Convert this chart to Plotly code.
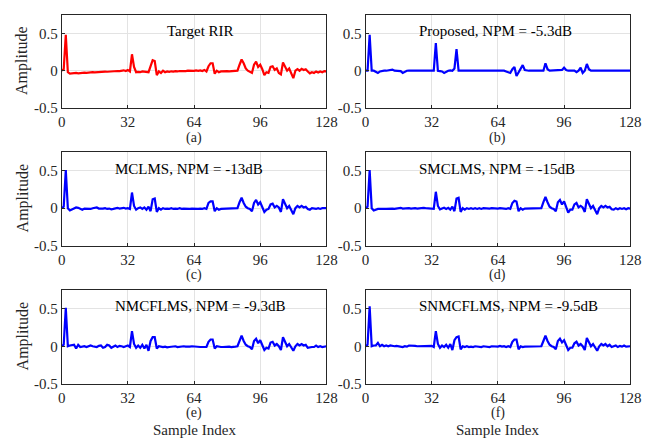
import plotly.graph_objects as go

W, H = 653, 445

target = [
    0.00, 0.02, 0.48, -0.02, -0.04, -0.035, -0.04, -0.03, -0.035, -0.03,
    -0.035, -0.025, -0.03, -0.025, -0.028, -0.02, -0.022, -0.018, -0.02, -0.015,
    -0.016, -0.012, -0.014, -0.01, -0.01, -0.008, -0.006, -0.004, -0.005, 0.0,
    0.005, -0.005, 0.01, -0.01, 0.22, 0.05, -0.02, -0.015, -0.02, -0.01,
    -0.015, -0.01, -0.02, 0.06, 0.14, 0.13, -0.06, -0.01, -0.03, 0.0,
    -0.02, -0.01, -0.015, -0.008, -0.012, -0.005, -0.01, -0.004, -0.008, -0.003,
    -0.006, 0.0, -0.004, 0.002, -0.003, 0.003, -0.002, 0.005, -0.004, 0.01,
    -0.01, 0.06, 0.10, 0.10, -0.04, 0.0, -0.02, -0.01, -0.006, -0.01,
    -0.005, -0.008, -0.004, -0.006, -0.003, 0.0, 0.08, 0.15, 0.10, 0.03,
    0.0, -0.01, -0.03, 0.08, 0.12, 0.05, 0.08, 0.02, -0.06, -0.02,
    -0.03, 0.05, 0.06, 0.01, 0.03, -0.03, -0.05, 0.11, 0.05, 0.0,
    0.03, -0.05, -0.10, 0.0, 0.02, 0.0, 0.025, 0.01, 0.02, -0.01,
    -0.035, -0.02, -0.03, -0.01, -0.025, -0.01, -0.02, -0.005, -0.01,
]

proposed = [
    0.0, 0.0, 0.48, 0.0, 0.0, -0.01, -0.03, -0.01, 0.0, 0.0,
    0.0, 0.002, 0.005, 0.015, 0.0, 0.0, 0.0, -0.005, -0.03, -0.01,
    0.0, 0.002, 0.0, 0.003, 0.0, 0.0, 0.002, 0.0, 0.0, 0.0,
    0.0, 0.0, 0.0, 0.0, 0.37, 0.0, -0.005, -0.01, -0.03, -0.01,
    0.0, 0.005, 0.0, 0.03, 0.29, 0.0, 0.0, 0.0, 0.002, 0.0,
    0.0, 0.0, 0.0, 0.002, 0.0, 0.0, 0.0, 0.0, 0.0, 0.0,
    0.0, 0.0, 0.0, 0.0, 0.005, 0.01, 0.0, 0.0, -0.01, -0.02,
    -0.03, 0.02, 0.05, -0.07, -0.02, 0.02, 0.075, 0.01, 0.0, 0.0,
    0.0, 0.0, 0.0, 0.0, 0.0, 0.0, 0.0, 0.10, 0.02, 0.0,
    0.0, 0.0, 0.0, 0.0, 0.005, 0.01, 0.04, 0.01, 0.0, 0.0,
    0.0, 0.0, -0.02, 0.0, 0.04, -0.03, 0.0, 0.09, 0.02, 0.0,
    0.0, 0.0, 0.0, 0.0, 0.0, 0.0, 0.0, 0.0, 0.0, -0.005,
    0.0, 0.0, 0.0, 0.0, 0.0, 0.0, 0.0, 0.0, 0.0,
]

mclms = [
    0.0, 0.02, 0.51, 0.0, -0.03, -0.02, 0.0, 0.01, 0.005, -0.01,
    -0.02, -0.005, -0.01, -0.005, -0.01, 0.0, 0.005, 0.01, -0.005, -0.01,
    -0.005, 0.0, -0.01, -0.005, -0.015, -0.01, 0.0, 0.005, -0.005, 0.0,
    0.005, -0.005, 0.0, -0.01, 0.21, 0.03, -0.02, 0.0, 0.01, -0.01,
    0.01, -0.02, 0.02, -0.04, 0.12, 0.13, -0.05, 0.0, -0.02, 0.0,
    -0.01, -0.005, -0.01, 0.0, -0.01, -0.005, -0.01, 0.0, -0.008, -0.005,
    -0.01, -0.005, -0.01, -0.005, -0.01, -0.005, -0.01, -0.005, -0.01, 0.0,
    -0.01, 0.07, 0.09, 0.09, -0.04, 0.0, -0.02, -0.01, -0.01, -0.01,
    -0.01, -0.01, -0.01, -0.01, -0.01, 0.0, 0.08, 0.14, 0.07, 0.02,
    0.0, -0.01, -0.04, 0.07, 0.11, 0.05, 0.08, 0.01, -0.05, -0.02,
    -0.01, 0.05, 0.06, 0.01, 0.03, 0.01, -0.05, 0.12, 0.05, 0.0,
    0.03, -0.03, -0.08, 0.0, 0.03, 0.01, 0.03, 0.01, 0.02, -0.01,
    -0.02, 0.0, -0.01, -0.01, 0.0, -0.01, 0.0, -0.005, 0.0,
]

smclms = [
    0.0, 0.02, 0.51, 0.0, -0.03, -0.015, -0.01, -0.01, -0.005, -0.01,
    -0.01, -0.005, 0.0, -0.005, -0.01, -0.005, 0.0, 0.005, -0.005, 0.0,
    -0.005, 0.0, -0.005, 0.0, 0.0, -0.005, 0.0, 0.0, 0.005, 0.0,
    0.0, 0.0, 0.0, -0.01, 0.22, 0.03, -0.015, 0.0, 0.005, -0.01,
    0.005, -0.02, 0.02, -0.04, 0.13, 0.14, -0.05, 0.0, -0.02, 0.0,
    -0.01, 0.0, -0.01, 0.0, -0.01, 0.0, -0.01, 0.0, -0.005, 0.0,
    -0.005, 0.0, -0.005, 0.0, -0.005, 0.0, -0.005, 0.0, -0.01, 0.0,
    -0.01, 0.07, 0.10, 0.09, -0.04, 0.0, -0.02, -0.005, -0.005, -0.005,
    -0.005, -0.005, -0.005, 0.0, 0.0, 0.0, 0.08, 0.15, 0.08, 0.02,
    0.0, -0.01, -0.04, 0.08, 0.11, 0.05, 0.09, 0.01, -0.06, -0.02,
    -0.02, 0.05, 0.07, 0.01, 0.03, 0.01, -0.05, 0.12, 0.05, 0.0,
    0.03, -0.03, -0.08, 0.0, 0.03, 0.01, 0.03, 0.01, 0.02, -0.015,
    -0.02, 0.0, -0.015, 0.0, -0.01, 0.0, -0.015, 0.0, -0.005,
]

nmcflms = [
    0.0, 0.02, 0.51, 0.0, 0.01, 0.01, 0.02, -0.03, 0.02, -0.01,
    0.0, 0.0, -0.01, 0.005, 0.01, 0.0, -0.005, -0.01, 0.005, 0.01,
    -0.02, -0.01, 0.02, 0.01, -0.02, 0.0, 0.01, -0.01, 0.005, 0.0,
    -0.01, 0.0, 0.01, -0.01, 0.20, 0.03, -0.02, 0.01, -0.02, 0.02,
    -0.03, 0.02, -0.06, 0.07, 0.12, 0.12, -0.03, 0.0, -0.01, -0.01,
    -0.005, -0.015, -0.01, -0.005, -0.01, 0.0, -0.01, -0.005, -0.01, 0.0,
    -0.005, -0.01, -0.005, 0.0, -0.005, -0.01, -0.005, -0.01, -0.01, -0.01,
    -0.01, 0.06, 0.09, 0.09, -0.03, 0.0, -0.01, -0.01, -0.01, -0.005,
    -0.01, -0.005, -0.01, -0.01, -0.005, 0.0, 0.08, 0.14, 0.07, 0.02,
    0.0, -0.01, -0.04, 0.07, 0.10, 0.04, 0.08, 0.01, -0.05, -0.02,
    -0.03, 0.05, 0.06, 0.01, 0.03, 0.0, -0.05, 0.12, 0.06, 0.0,
    0.03, -0.02, -0.06, 0.0, 0.03, 0.01, 0.03, 0.01, 0.02, -0.02,
    -0.01, -0.01, -0.01, 0.01, -0.01, 0.0, -0.01, 0.0, 0.0,
]

snmcflms = [
    0.0, 0.02, 0.53, 0.0, 0.01, 0.01, 0.045, 0.0, 0.02, 0.0,
    0.01, 0.0, 0.01, 0.0, 0.0, 0.005, 0.0, 0.0, -0.01, 0.0,
    -0.005, 0.01, 0.005, 0.0, 0.005, 0.0, 0.0, -0.005, 0.005, 0.0,
    -0.005, 0.0, 0.005, -0.01, 0.20, 0.03, -0.02, 0.01, -0.01, 0.02,
    -0.02, 0.03, -0.05, 0.08, 0.12, 0.13, -0.04, 0.0, -0.01, 0.0,
    -0.01, -0.005, -0.01, 0.0, -0.005, 0.0, -0.01, 0.0, -0.005, 0.0,
    -0.01, 0.0, -0.005, 0.0, -0.005, 0.005, -0.005, 0.0, -0.01, 0.0,
    -0.01, 0.06, 0.09, 0.09, -0.04, 0.0, -0.01, -0.005, -0.005, 0.0,
    -0.005, 0.0, -0.005, 0.0, 0.0, 0.0, 0.07, 0.14, 0.07, 0.02,
    0.0, -0.01, -0.04, 0.07, 0.10, 0.05, 0.08, 0.01, -0.05, -0.02,
    -0.02, 0.04, 0.06, 0.01, 0.03, 0.0, -0.05, 0.11, 0.05, 0.0,
    0.03, -0.02, -0.06, 0.0, 0.03, 0.01, 0.03, 0.0, 0.02, -0.01,
    -0.005, 0.01, -0.01, 0.005, -0.005, 0.01, -0.005, 0.0, 0.0,
]

series = [target, proposed, mclms, smclms, nmcflms, snmcflms]
titles = ["Target RIR", "Proposed, NPM = -5.3dB", "MCLMS, NPM = -13dB",
          "SMCLMS, NPM = -15dB", "NMCFLMS, NPM = -9.3dB", "SNMCFLMS, NPM = -9.5dB"]
title_x = [50, 25, 25, 25, 25, 25]
sublabels = ["(a)", "(b)", "(c)", "(d)", "(e)", "(f)"]
colors = ["#ff0000", "#0000ff", "#0000ff", "#0000ff", "#0000ff", "#0000ff"]

x_ticks = [0, 32, 64, 96, 128]
y_ticks = [-0.5, 0, 0.5]
y_ticktext = ["-0.5", "0", "0.5"]

# pixel layout of plot areas
col_px = [(59, 330), (370, 641)]
row_px = [(15, 110), (155, 250), (295, 391)]
sub_px = [141, 280, 421]

FONT = "Times New Roman, Liberation Serif, DejaVu Serif, serif"
FS = 15
fig = go.Figure()
layout = dict(width=W, height=H, margin=dict(l=0, r=0, t=0, b=0),
              paper_bgcolor="white", plot_bgcolor="white", showlegend=False,
              font=dict(family=FONT, size=FS, color="#262626"))
annotations = []

for i, ys in enumerate(series):
    r, c = divmod(i, 2)
    k = i + 1
    xa = "xaxis" if k == 1 else f"xaxis{k}"
    ya = "yaxis" if k == 1 else f"yaxis{k}"
    xr = "x" if k == 1 else f"x{k}"
    yr = "y" if k == 1 else f"y{k}"
    fig.add_trace(go.Scatter(x=list(range(len(ys))), y=ys, mode="lines",
                             line=dict(color=colors[i], width=2.2),
                             xaxis=xr, yaxis=yr))
    x0, x1 = col_px[c]
    y0, y1 = row_px[r]
    layout[xa] = dict(domain=[x0 / W, x1 / W], anchor=yr, range=[0, 128],
                      tickvals=x_ticks, showline=True, mirror=True,
                      linecolor="#262626", linewidth=1, showgrid=True,
                      gridcolor="#e3e3e3", gridwidth=1, zeroline=False,
                      ticks="inside", ticklen=3, tickcolor="#262626",
                      tickfont=dict(family=FONT, size=FS, color="#262626"))
    layout[ya] = dict(domain=[1 - y1 / H, 1 - y0 / H], anchor=xr,
                      range=[-0.5, 0.75], tickvals=y_ticks, ticktext=y_ticktext,
                      showline=True, mirror=True, linecolor="#262626",
                      linewidth=1, showgrid=True, gridcolor="#e3e3e3",
                      gridwidth=1, zeroline=False, ticks="inside", ticklen=3,
                      tickcolor="#262626",
                      tickfont=dict(family=FONT, size=FS, color="#262626"))
    annotations.append(dict(x=title_x[i], y=0.53, xref=xr, yref=yr,
                            text=titles[i], showarrow=False, xanchor="left",
                            yanchor="middle",
                            font=dict(family=FONT, size=FS, color="black")))
    annotations.append(dict(x=(x0 + x1) / 2 / W, y=1 - sub_px[r] / H,
                            xref="paper", yref="paper", text=sublabels[i],
                            showarrow=False, xanchor="center", yanchor="middle",
                            font=dict(family=FONT, size=14, color="#262626")))
    if c == 0:
        annotations.append(dict(x=19 / W, y=1 - (y0 + y1) / 2 / H,
                                xref="paper", yref="paper", text="Amplitude",
                                textangle=-90, showarrow=False,
                                xanchor="center", yanchor="middle",
                                font=dict(family=FONT, size=16, color="#262626")))
    if r == 2:
        annotations.append(dict(x=(x0 + x1) / 2 / W, y=1 - 438 / H,
                                xref="paper", yref="paper", text="Sample Index",
                                showarrow=False, xanchor="center",
                                yanchor="middle",
                                font=dict(family=FONT, size=15, color="#262626")))

layout["annotations"] = annotations
fig.update_layout(**layout)
fig.write_html("out.html")
